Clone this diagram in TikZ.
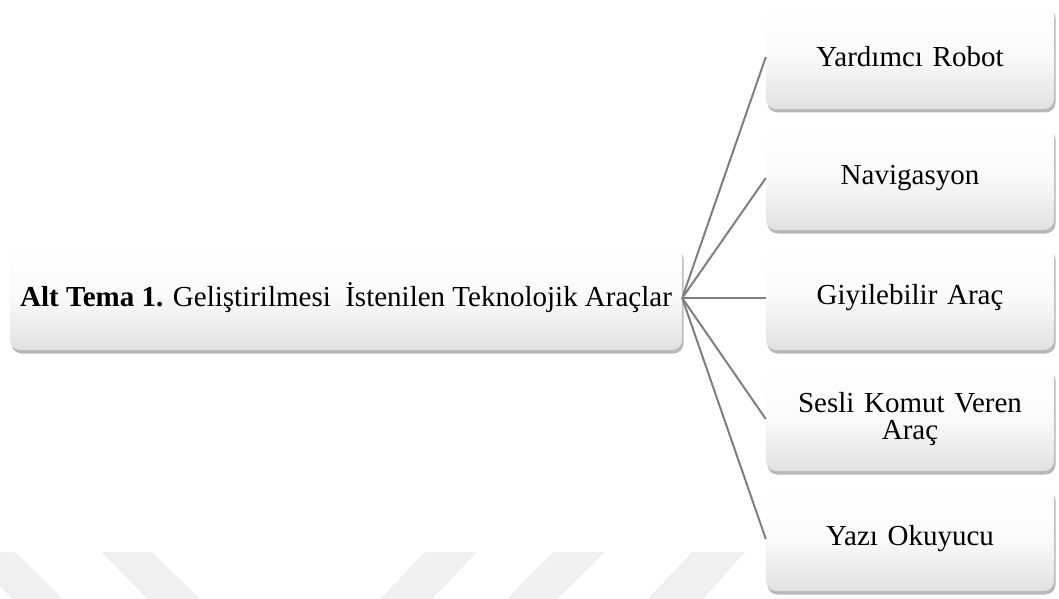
\documentclass[tikz,border=0pt]{standalone}
\usepackage{fontspec}
\setmainfont{Liberation Serif}
\usetikzlibrary{shadows}
\definecolor{wm}{HTML}{F0F0F0}
\definecolor{lnc}{HTML}{7F7F7F}
\begin{document}
\begin{tikzpicture}[x=1pt,y=-1pt,
  box/.style={rounded corners=10pt, top color=white, bottom color=black!12, middle color=black!2,
    drop shadow={shadow xshift=1.5pt, shadow yshift=-3.5pt, fill=black!80, opacity=0.35},
    font=\fontsize{29}{33}\selectfont, align=center, inner sep=0pt},
  sidebox/.style={box, minimum width=288pt, minimum height=104pt, text width=270pt},
  link/.style={draw=lnc, line width=2pt}]
\useasboundingbox (0,0) rectangle (1059,599);
% faint watermark
\fill[wm] (-35,552) -- (15,552) -- (63,599) -- (13,599) -- cycle;
\fill[wm] (102,552) -- (152,552) -- (200,599) -- (147,599) -- cycle;
\fill[wm] (425,552) -- (477,552) -- (432,599) -- (380,599) -- cycle;
\fill[wm] (553,552) -- (605,552) -- (557,599) -- (507,599) -- cycle;
\fill[wm] (692,552) -- (745,552) -- (703,599) -- (648,599) -- cycle;
% nodes
\node[box, minimum width=672pt, minimum height=104pt] (main) at (346,298)
  {\textbf{Alt Tema 1.} Geliştirilmesi~ İstenilen Teknolojik Araçlar};
\node[sidebox] (r1) at (910,57) {Yardımcı Robot};
\node[sidebox] (r2) at (910,178) {Navigasyon};
\node[sidebox] (r3) at (910,298) {Giyilebilir Araç};
\node[sidebox, font=\fontsize{29}{27}\selectfont] (r4) at (910,419) {Sesli Komut Veren\\Araç};
\node[sidebox] (r5) at (910,539) {Yazı Okuyucu};
% connectors
\foreach \r in {r1,r2,r3,r4,r5}
  \draw[link] (main.east) -- (\r.west);
\end{tikzpicture}
\end{document}
